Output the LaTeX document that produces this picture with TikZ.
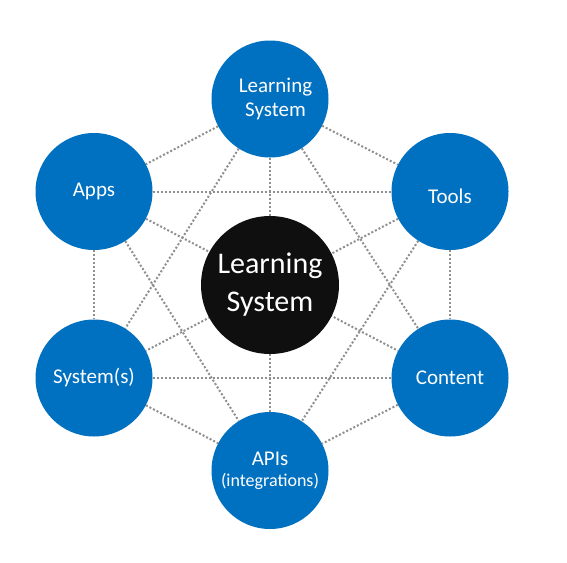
\documentclass[tikz,border=0pt]{standalone}
\usepackage{fontspec}
\setmainfont{Carlito}
\usetikzlibrary{backgrounds}
\begin{document}
\begin{tikzpicture}[x=1pt, y=-1pt,
    hub/.style={circle, fill=lsblue, minimum size=117pt, inner sep=0pt, text=white, align=center,
                font=\fontsize{21}{24}\selectfont},
    link/.style={draw=dotgray, line width=2pt, dash pattern=on 2pt off 2pt}]
  \definecolor{lsblue}{HTML}{0070C0}
  \definecolor{dotgray}{HTML}{8F8F8F}
  \definecolor{coreblack}{HTML}{0F0F0F}
  \useasboundingbox (0,0) rectangle (567,562);
  % ring of blue circles
  \node[hub] (top) at (270,99) {\hspace*{11pt}Learning\\\hspace*{11pt}System};
  \node[hub] (apps) at (94,191.5) {Apps};
  \node[hub, text height=24pt, text depth=0pt] (tools) at (450,191.5) {Tools};
  \node[hub] (sys) at (94,378) {System(s)};
  \node[hub] (content) at (450,378) {Content};
  \node[hub] (apis) at (270,470.5) {APIs\\[-3pt]{\fontsize{18}{20}\selectfont (integrations)}};
  % core in the middle
  \node[circle, fill=coreblack, minimum size=138pt, inner sep=0pt, text=white, align=center,
        font=\fontsize{30}{38}\selectfont] (core) at (270,285) {Learning\\System};
  % dotted links, every circle to every other
  \begin{scope}[on background layer]
    \fill[white] (0,0) rectangle (567,562);
    \foreach \a/\b in {top/apps, top/tools, top/sys, top/content, top/apis,
                       apps/tools, apps/sys, apps/content, apps/apis,
                       tools/sys, tools/content, tools/apis,
                       sys/content, sys/apis, content/apis}
      \draw[link] (\a) -- (\b);
  \end{scope}
\end{tikzpicture}
\end{document}
